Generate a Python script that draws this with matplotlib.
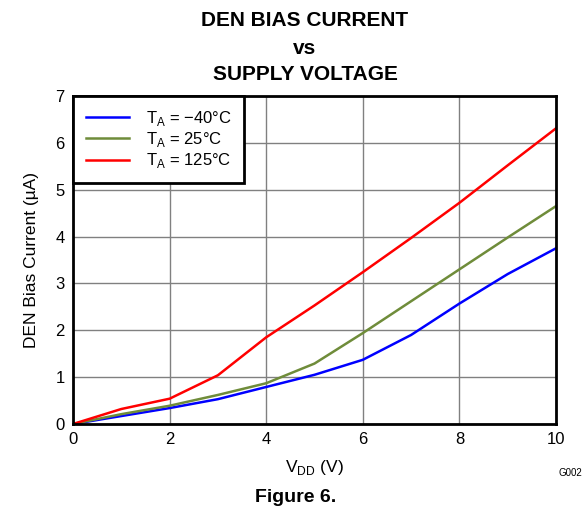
import matplotlib.pyplot as plt

plt.rcParams['font.family'] = ['Liberation Sans', 'DejaVu Sans']

vdd = [0, 1, 2, 3, 4, 5, 6, 7, 8, 9, 10]
i_m40 = [0, 0.17, 0.34, 0.53, 0.79, 1.05, 1.37, 1.9, 2.57, 3.2, 3.75]
i_25 = [0, 0.21, 0.39, 0.62, 0.87, 1.29, 1.94, 2.62, 3.3, 3.98, 4.65]
i_125 = [0, 0.32, 0.54, 1.04, 1.85, 2.53, 3.24, 3.97, 4.72, 5.52, 6.31]

labels = ['T$_\\mathregular{A}$ = \u221240\u00b0C',
          'T$_\\mathregular{A}$ = 25\u00b0C',
          'T$_\\mathregular{A}$ = 125\u00b0C']
colors = ['#0000ff', '#6f8c3a', '#ff0000']

fig = plt.figure(figsize=(5.84, 5.08), dpi=100)
ax = fig.add_axes([73 / 584, 1 - 424 / 508, (556 - 73) / 584, (424 - 96) / 508])

for y, lab, c in zip([i_m40, i_25, i_125], labels, colors):
    ax.plot(vdd, y, color=c, lw=1.8, label=lab)

ax.set_xlim(0, 10)
ax.set_ylim(0, 7)
ax.set_xticks(range(0, 11, 2))
ax.set_yticks(range(0, 8))
ax.grid(True, color='#808080', lw=1)
ax.tick_params(length=0, labelsize=12, pad=6)
for s in ax.spines.values():
    s.set_linewidth(2)

ax.set_xlabel('V$_\\mathregular{DD}$ (V)', fontsize=12.5, labelpad=8)
ax.set_ylabel('DEN Bias Current (\u00b5A)', fontsize=12.5, labelpad=12)

leg = ax.legend(loc='upper left', fontsize=12, frameon=True, fancybox=False,
                borderaxespad=0, handlelength=2.6, handletextpad=1.0,
                labelspacing=0.15, borderpad=0.75)
leg.get_frame().set_edgecolor('black')
leg.get_frame().set_linewidth(2)
leg.get_frame().set_alpha(1)

fig.text(305 / 584, 1 - 20 / 508, 'DEN BIAS CURRENT', ha='center', va='center',
         fontsize=15, fontweight='bold')
fig.text(305 / 584, 1 - 48 / 508, 'vs', ha='center', va='center',
         fontsize=15, fontweight='bold')
fig.text(305 / 584, 1 - 75 / 508, 'SUPPLY VOLTAGE', ha='center', va='center',
         fontsize=15, fontweight='bold')
fig.text(570 / 584, 1 - 473 / 508, 'G002', ha='center', va='center', fontsize=7)
fig.text(296 / 584, 1 - 497 / 508, 'Figure 6.', ha='center', va='center',
         fontsize=14, fontweight='bold')

fig.savefig('out.png', dpi=100)
